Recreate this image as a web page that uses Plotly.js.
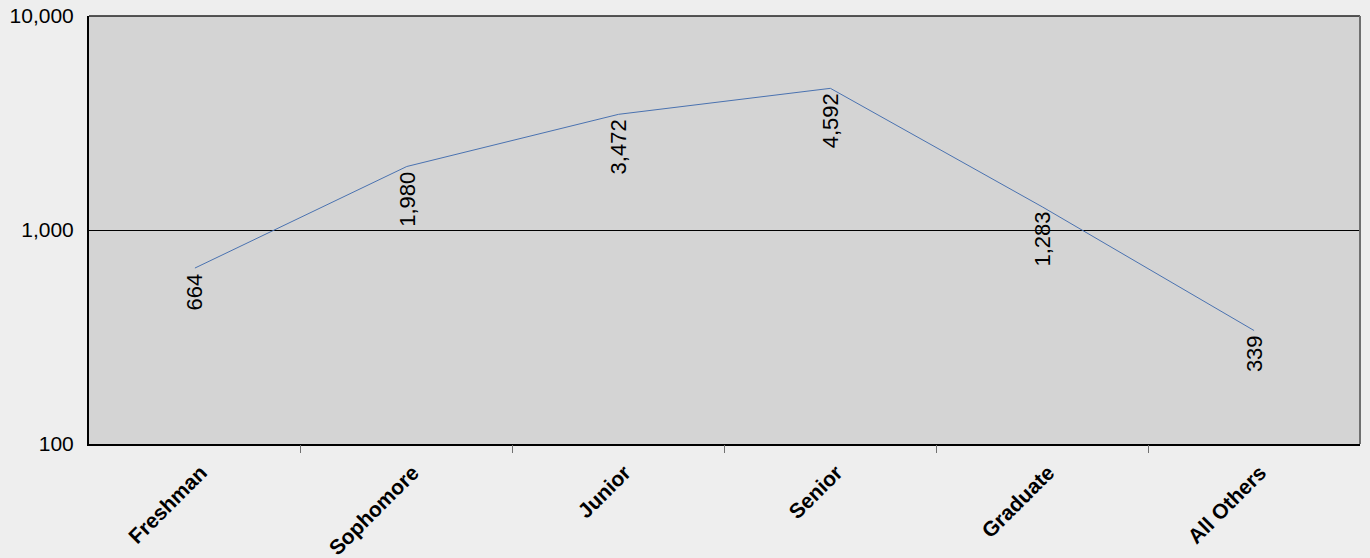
<!DOCTYPE html>
<html>
<head>
<meta charset="utf-8">
<script src="https://cdn.plot.ly/plotly-3.0.1.min.js"></script>
<style>html,body{margin:0;padding:0;background:#eeeeee;}#chart{width:1370px;height:558px;}</style>
</head>
<body>
<div id="chart"></div>
<script>
const categories = ["Freshman", "Sophomore", "Junior", "Senior", "Graduate", "All Others"];
const values = [664, 1980, 3472, 4592, 1283, 339];
const yTickVals = [100, 1000, 10000];
const yTickText = ["100", "1,000", "10,000"];

const fmt = v => v.toLocaleString("en-US");
const FONT = "Liberation Sans, Arial, sans-serif";

const trace = {
  x: categories,
  y: values,
  type: "scatter",
  mode: "lines",
  line: {color: "#4a72b0", width: 1},
  hoverinfo: "x+y"
};

// category boundary positions for the between-category tick marks
const boundaries = categories.slice(1).map((c, i) => i + 0.5);

// empty helper trace so the boundary-tick axis is drawn
const tickTrace = {
  x: [], y: [],
  type: "scatter",
  mode: "none",
  xaxis: "x2",
  yaxis: "y",
  hoverinfo: "skip",
  showlegend: false
};

const annotations = categories.map((c, i) => ({
  x: c,
  y: Math.log10(values[i]),
  xref: "x",
  yref: "y",
  text: fmt(values[i]),
  showarrow: false,
  textangle: -90,
  xanchor: "center",
  yanchor: "top",
  yshift: -3,
  font: {family: FONT, size: 22, color: "#000000"}
}));

const layout = {
  width: 1370,
  height: 558,
  margin: {l: 89, r: 10, t: 16, b: 114},
  paper_bgcolor: "#eeeeee",
  plot_bgcolor: "#d4d4d4",
  showlegend: false,
  font: {family: FONT, color: "#000000"},
  xaxis: {
    type: "category",
    range: [-0.5, 5.5],
    ticks: "",
    tickangle: -45,
    ticklabelstandoff: 6,
    ticklabelshift: 6,
    tickfont: {family: FONT, size: 21, color: "#000000", weight: "bold"},
    showgrid: false,
    showline: true,
    linecolor: "#000000",
    linewidth: 2,
    zeroline: false
  },
  xaxis2: {
    type: "linear",
    overlaying: "x",
    anchor: "y",
    side: "bottom",
    range: [-0.5, 5.5],
    tickmode: "array",
    tickvals: boundaries,
    ticks: "outside",
    ticklen: 8,
    tickcolor: "#707070",
    tickwidth: 1,
    showticklabels: false,
    showgrid: false,
    showline: false,
    zeroline: false
  },
  yaxis: {
    type: "log",
    range: [2, 4],
    tickvals: yTickVals,
    ticktext: yTickText,
    ticks: "",
    ticklabelstandoff: 9,
    tickfont: {family: FONT, size: 21, color: "#000000"},
    showgrid: true,
    gridcolor: "#000000",
    gridwidth: 1,
    showline: true,
    linecolor: "#000000",
    linewidth: 2,
    zeroline: false
  },
  shapes: [
    {type: "line", xref: "paper", yref: "paper", x0: 0, x1: 1, y0: 1, y1: 1, line: {color: "#222222", width: 1.5}},
    {type: "line", xref: "paper", yref: "paper", x0: 1, x1: 1, y0: 0, y1: 1, line: {color: "#707070", width: 2}}
  ],
  annotations: annotations
};

Plotly.newPlot("chart", [trace, tickTrace], layout, {displayModeBar: false});
</script>
</body>
</html>
